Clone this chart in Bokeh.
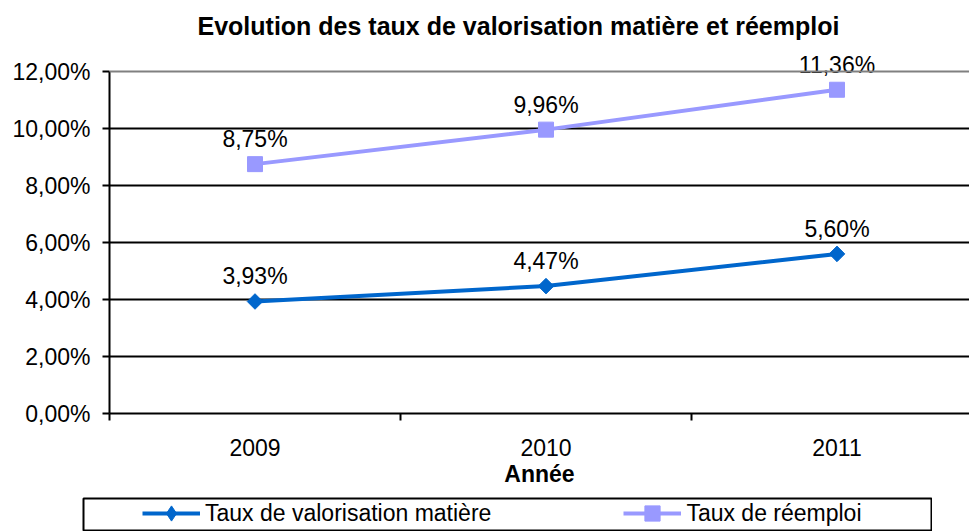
import math
from bokeh.plotting import figure
from bokeh.models import (Range1d, FixedTicker, Legend, LegendItem, Span, Spacer)
from bokeh.layouts import column, row
from bokeh.core.properties import value
from bokeh.embed import file_html
from bokeh.resources import INLINE

# ---- data ----
years = ["2009", "2010", "2011"]
valorisation = [3.93, 4.47, 5.60]
reemploi = [8.75, 9.96, 11.36]
y_ticks = [0, 2, 4, 6, 8, 10, 12]
y_tick_labels = ["0,00%", "2,00%", "4,00%", "6,00%", "8,00%", "10,00%", "12,00%"]
series_names = ["Taux de valorisation matière", "Taux de réemploi"]
title_text = "Evolution des taux de valorisation matière et réemploi"
x_title = "Année"

# ---- styling / layout ----
FONT = "Liberation Sans"
FS = "23px"
W, H = 969, 497                    # main chart canvas
FL, FT, FB = 109, 42, 413          # frame left / top / bottom (canvas px)
CAT_W = 291                        # pixel width of one category
PX_PER_UNIT = 28.5                 # pixels per 1 % on y
BLUE = "#0066CC"
LAV = "#9999FF"

def fmt(v):
    return f"{v:.2f}".replace(".", ",") + "%"

x_pos = [i + 0.5 for i in range(len(years))]

p = figure(width=W, height=H, output_backend="svg", toolbar_location=None,
           x_range=Range1d(0, (W - FL) / CAT_W),
           y_range=Range1d(0, (FB - FT) / PX_PER_UNIT),
           min_border_left=FL, min_border_right=0, min_border_top=FT,
           min_border_bottom=H - FB)
p.outline_line_color = None
p.background_fill_color = "white"
p.border_fill_color = "white"

# title
p.title.text = title_text
p.title.text_font = FONT
p.title.text_font_size = "25px"
p.title.text_font_style = "bold"
p.title.text_color = "black"
p.title.align = "left"
p.title.offset = 88
p.title.standoff = 6

# x axis
xa = p.xaxis[0]
xa.ticker = FixedTicker(ticks=x_pos, minor_ticks=list(range(len(years) + 1)))
xa.major_label_overrides = {xp: y for xp, y in zip(x_pos, years)}
xa.major_tick_out = 0
xa.major_tick_in = 0
xa.minor_tick_out = 7
xa.minor_tick_in = 0
xa.minor_tick_line_color = "black"
xa.minor_tick_line_width = 2
xa.axis_line_color = "black"
xa.axis_line_width = 2
xa.major_label_text_font = FONT
xa.major_label_text_font_size = FS
xa.major_label_text_color = "black"
xa.major_label_standoff = 18
xa.axis_label = x_title
xa.axis_label_text_font = FONT
xa.axis_label_text_font_size = FS
xa.axis_label_text_font_style = "bold"
xa.axis_label_text_color = "black"
xa.axis_label_standoff = 2

# y axis
ya = p.yaxis[0]
ya.ticker = FixedTicker(ticks=y_ticks)
ya.bounds = (y_ticks[0], y_ticks[-1])
ya.major_label_overrides = {t: l for t, l in zip(y_ticks, y_tick_labels)}
ya.major_tick_out = 7
ya.major_tick_in = 0
ya.major_tick_line_width = 2
ya.major_tick_line_color = "black"
ya.minor_tick_out = 0
ya.minor_tick_in = 0
ya.axis_line_color = "black"
ya.axis_line_width = 2
ya.major_label_text_font = FONT
ya.major_label_text_font_size = FS
ya.major_label_text_color = "black"
ya.major_label_standoff = 12

p.xgrid.visible = False
p.ygrid.ticker = FixedTicker(ticks=y_ticks[1:-1])
p.ygrid.grid_line_color = "black"
p.ygrid.grid_line_width = 2
p.add_layout(Span(location=y_ticks[-1], dimension="width", line_color="#808080",
                  line_width=2))

# series
def draw_series(fig, vals, color, marker_kw):
    ln = fig.line(x_pos, vals, line_color=color, line_width=4)
    mk = fig.scatter(x_pos, vals, fill_color=color, line_color=color, **marker_kw)
    return ln, mk

DIAMOND = dict(marker="square", angle=math.pi / 4, size=11)
DIAMOND_LEG = dict(marker="diamond", size=16)
SQUARE = dict(marker="square", size=15)

draw_series(p, valorisation, BLUE, DIAMOND)
draw_series(p, reemploi, LAV, SQUARE)

for vals in (valorisation, reemploi):
    p.text(x=x_pos, y=vals, text=[fmt(v) for v in vals], text_align="center",
           text_baseline="middle", y_offset=-25, text_font=value(FONT),
           text_font_size=FS, text_color="black")

# legend box (separate small figure, its frame outline is the box)
lg = figure(width=850, height=34, output_backend="svg", toolbar_location=None,
            x_range=Range1d(100, 101), y_range=Range1d(100, 101),
            x_axis_type=None, y_axis_type=None, min_border_left=1,
            min_border_right=1, min_border_top=1, min_border_bottom=0)
lg.grid.visible = False
lg.outline_line_color = "black"
lg.outline_line_width = 2
lg.outline_line_alpha = 1
lg.background_fill_color = "white"
lg.border_fill_color = "white"
l1, m1 = draw_series(lg, valorisation, BLUE, DIAMOND_LEG)
l2, m2 = draw_series(lg, reemploi, LAV, SQUARE)
legend = Legend(items=[LegendItem(label=series_names[0], renderers=[l1, m1]),
                       LegendItem(label=series_names[1], renderers=[l2, m2])],
                orientation="horizontal", location=(59, -1),
                padding=0, spacing=132, glyph_width=58, glyph_height=38,
                label_height=38, label_standoff=5, label_text_font=FONT,
                label_text_font_size=FS, label_text_color="black",
                border_line_color=None, background_fill_alpha=0, margin=0)
lg.add_layout(legend)

layout = column(p, row(Spacer(width=82, height=34), lg))
open("out.html", "w").write(file_html(layout, INLINE))
